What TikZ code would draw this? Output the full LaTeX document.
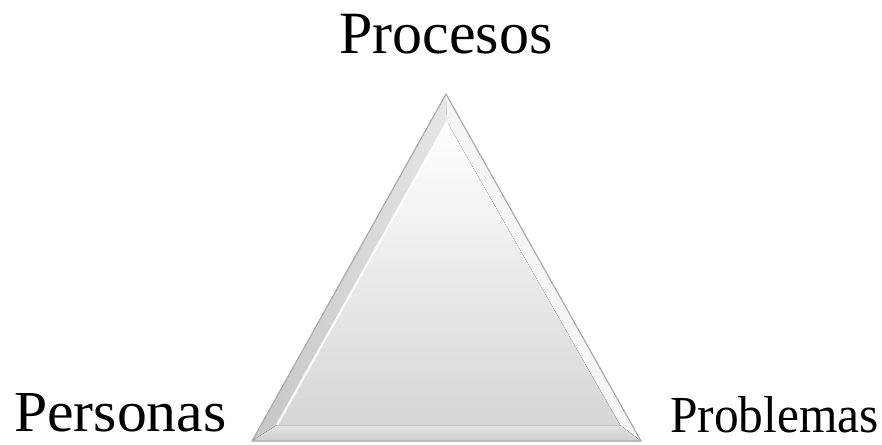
\documentclass[tikz,border=0pt]{standalone}
\usepackage{fontspec}
\setmainfont{Liberation Serif}
\usepackage{xcolor}
\usepackage{tikz}

\begin{document}
\begin{tikzpicture}[
  x=1pt, y=-1pt,
  word/.style={inner sep=0pt, text=black},
  rim/.style={draw=gray!65, line width=1.2pt, line join=round},
  face/.style={top color=white, bottom color=gray!32, shading angle=0}
]
  \useasboundingbox (0,0) rectangle (882,444);

  % corners of the outer and inner triangle
  \coordinate (apex) at (446,94);
  \coordinate (left) at (252,441);
  \coordinate (right) at (641,441);
  \coordinate (iapex) at (447,122);
  \coordinate (ileft) at (277,425);
  \coordinate (iright) at (620,425);

  % bevel
  \fill[gray!22] (apex) -- (left) -- (right) -- cycle;
  \fill[left color=gray!45, right color=gray!20] (apex) -- (left) -- (ileft) -- (iapex) -- cycle;
  \fill[white!92!gray] (apex) -- (iapex) -- (iright) -- (right) -- cycle;
  \fill[top color=gray!22, bottom color=gray!38] (left) -- (ileft) -- (iright) -- (right) -- cycle;
  \fill[face] (iapex) -- (ileft) -- (iright) -- cycle;
  \draw[white, line width=2pt] (iapex) -- (ileft);
  \draw[rim] (apex) -- (left) -- (right) -- cycle;

  \node[word, anchor=base, font=\fontsize{60}{60}\selectfont] (procesos) at (446,53) {Procesos};
  \node[word, anchor=base west, font=\fontsize{58}{58}\selectfont, xscale=1.03] (personas) at (14,431) {Personas};
  \node[word, anchor=base west, font=\fontsize{52}{52}\selectfont, xscale=0.95] (problemas) at (670,432) {Problemas};
\end{tikzpicture}
\end{document}
